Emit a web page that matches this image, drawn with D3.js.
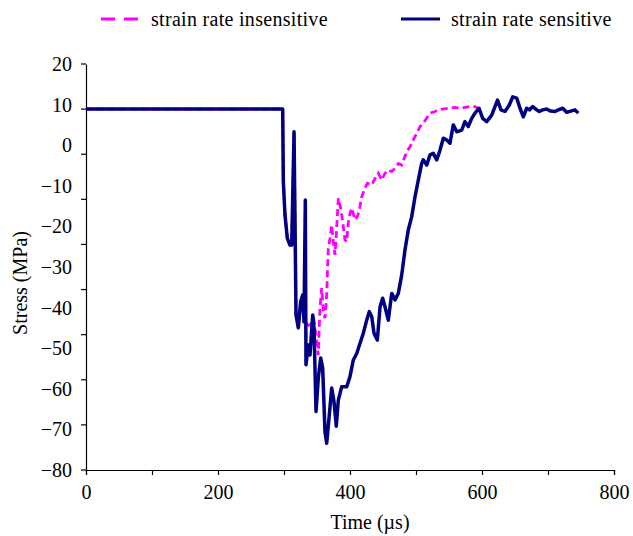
<!DOCTYPE html>
<html>
<head>
<meta charset="utf-8">
<script src="https://cdn.jsdelivr.net/npm/d3@7"></script>
<style>
  body { margin: 0; background: #fff; }
  svg { display: block; font-family: "Liberation Serif", "Times New Roman", serif; }
</style>
</head>
<body>
<svg width="633" height="536"></svg>
<script>
// series names (legend)
var seriesNames = ['strain rate insensitive', 'strain rate sensitive'];

// strain rate sensitive (solid navy)
var sensitiveTime = [0, 298, 299, 301.5, 305, 309, 311.7, 315.2, 318.2, 321.7, 325.3, 328.3, 330.3, 332.3, 333.3,
  336.8, 339.4, 343.5, 345.5, 348.5, 352, 355.6, 358.6, 362.1, 364.7, 368.6, 372.3, 375.8, 379.2, 382.3, 387.4,
  395, 400, 405, 410.2, 415.2, 420.2, 425.3, 429.2, 432.9, 436.4, 441.4, 445.5, 449.5, 453, 458, 463.2, 468.2,
  473.2, 478.3, 483.3, 488.3, 493.5, 498.5, 503.5, 508.6, 511, 516.2, 521.2, 526.2, 531.4, 536.4, 541.4, 546.5,
  551.5, 556.5, 561.7, 569.2, 574.2, 579.2, 584.4, 589.4, 595.5, 601, 607.1, 614.7, 623.5, 628.8, 634.8, 641.4,
  646.5, 652.6, 657.6, 662.6, 667.7, 671.7, 676.8, 682.9, 686.8, 692, 698, 704, 710.6, 715.6, 722.3, 728.3,
  734.4, 740.9, 745.9];
var sensitiveStress = [8.9, 8.9, -9, -17.2, -22.9, -24.6, -24.6, 3.3, -41.8, -45, -38.5, -36.9, -43.5, -13.5, -54.1,
  -49.2, -51.7, -41.8, -45, -65.6, -57.3, -52.4, -54.9, -70.6, -73.4, -66.5, -59.8, -63.2, -69.2, -62.8, -59.5,
  -59.5, -57, -52.9, -51.3, -48.8, -46.3, -43.1, -41, -42.2, -46.3, -48, -39.8, -37.7, -39.8, -43.1, -36.5, -38.1,
  -36.5, -32, -25.8, -20.9, -17.6, -12.7, -8.6, -4.5, -3.6, -4.9, -2.4, -2, -3.6, -1.2, 1.7, 1.3,
  0.5, 5, 3.3, 3.7, 5.8, 4.6, 6.6, 7.9, 9.1, 6.6, 5.8, 7.4, 11.1, 8.7, 8.3, 9.9,
  11.9, 11.6, 9.1, 7, 9.1, 8.7, 9.5, 8.7, 8.3, 8.7, 8.9, 8.4, 8.3, 8.7, 9.1, 8.1,
  8.4, 8.7, 7.9];

// strain rate insensitive (dashed magenta)
var insensitiveTime = [0, 298, 299, 301.5, 305, 309, 311.7, 315.2, 318.2, 321.7, 325.3, 328.3, 330.3,
  336.8, 339.4, 342, 344.4, 349.5, 352, 354.5, 357.1, 359.5, 362.1, 364.7, 365.6, 367.1, 369.7, 372.3, 374.7,
  377.3, 379.8, 382.3, 385.9, 388.9, 392.4, 395, 397.4, 400, 402.6, 407.6, 411.1, 414.1, 417.7, 422.7, 426.2,
  432.9, 437.9, 442.9, 448, 453, 458, 463.2, 468.2, 473.2, 478.3, 485.9, 490.9, 495.9, 501, 506, 511,
  521.2, 528.8, 533.8, 549, 559.1, 566.7, 581.8, 589.4, 594.4];
var insensitiveStress = [8.9, 8.9, -9, -17.2, -22.9, -24.6, -24.6, 3.3, -41.8, -45, -38.5, -36.9, -43.5,
  -44.3, -43.5, -45.1, -41.8, -48.4, -51.7, -40.2, -35.2, -41, -42.6, -36.9, -32, -25.4, -22.9, -19.7, -23.8,
  -27, -20.5, -13.1, -15.5, -18.8, -23.3, -23.8, -19.2, -16.8, -15.5, -18.4, -17.6, -16, -12.7, -10.6, -9.4,
  -9.8, -8.2, -6.9, -8.6, -6.9, -6.1, -6.5, -5.7, -4.5, -4.9, -1.6, -0.4, 1.3, 2.9, 4.6, 5.4,
  7.9, 8.3, 8.7, 9.1, 9.3, 9.1, 9.5, 9.5, 9.1];

// axis ticks
var xTickValues = [0, 100, 200, 300, 400, 500, 600, 700, 800];
var yTickValues = [20, 10, 0, -10, -20, -30, -40, -50, -60, -70, -80];

var sensitiveData = sensitiveTime.map(function (t, i) { return { t: t, s: sensitiveStress[i] }; });
var insensitiveData = insensitiveTime.map(function (t, i) { return { t: t, s: insensitiveStress[i] }; });

const svg = d3.select('svg');
const margin = { top: 64, bottom: 66, left: 86, right: 19 };
const width = 633, height = 536;
const fontSize = 20;

const x = d3.scaleLinear().domain([0, 800]).range([margin.left, width - margin.right]);
const y = d3.scaleLinear().domain([-80, 20]).range([height - margin.bottom, margin.top]);

// y axis: labels from the scale
const yAxis = svg.append('g')
  .attr('transform', 'translate(' + margin.left + ',0)')
  .call(d3.axisLeft(y).tickValues(yTickValues).tickSize(0).tickPadding(14));
yAxis.select('.domain').attr('stroke', '#000').attr('stroke-width', 1.2);
yAxis.selectAll('text').attr('font-size', fontSize).attr('fill', '#000')
  .attr('font-family', '"Liberation Serif", serif');

// the source draws 10 evenly spaced tick marks against 11 labels
const yMark = d3.scaleLinear().domain([0, 9]).range(y.range());
svg.append('g').selectAll('line')
  .data(d3.range(10))
  .join('line')
  .attr('x1', margin.left - 5).attr('x2', margin.left)
  .attr('y1', d => yMark(d)).attr('y2', d => yMark(d))
  .attr('stroke', '#000').attr('stroke-width', 1.2);

// x axis
const xAxis = svg.append('g')
  .attr('transform', 'translate(0,' + (height - margin.bottom) + ')')
  .call(d3.axisBottom(x).tickValues(xTickValues).tickSize(5).tickPadding(10)
    .tickFormat(d => d % 200 === 0 ? d : ''));
xAxis.select('.domain').attr('stroke', '#000').attr('stroke-width', 1.2);
xAxis.selectAll('line').attr('stroke', '#000').attr('stroke-width', 1.2);
xAxis.selectAll('text').attr('font-size', fontSize).attr('fill', '#000')
  .attr('font-family', '"Liberation Serif", serif');

// axis titles
svg.append('text')
  .attr('x', (x.range()[0] + x.range()[1]) / 2 + 20)
  .attr('y', 529)
  .attr('text-anchor', 'middle')
  .attr('font-size', fontSize)
  .text('Time (\u00b5s)');

svg.append('text')
  .attr('transform', 'translate(27,283) rotate(-90)')
  .attr('text-anchor', 'middle')
  .attr('font-size', fontSize)
  .text('Stress (MPa)');

// lines
const line = d3.line()
  .x(d => x(d.t))
  .y(d => y(d.s));

svg.append('path')
  .datum(insensitiveData)
  .attr('fill', 'none')
  .attr('stroke', '#ff00ff')
  .attr('stroke-width', 2.8)
  .attr('stroke-dasharray', '7,4')
  .attr('d', line);

svg.append('path')
  .datum(sensitiveData)
  .attr('fill', 'none')
  .attr('stroke', '#000080')
  .attr('stroke-width', 3.5)
  .attr('stroke-linejoin', 'round')
  .attr('d', line);

// legend
const legend = svg.append('g');
const legendItems = [
  { name: seriesNames[0], color: '#ff00ff', dash: '14,9', x: 101 },
  { name: seriesNames[1], color: '#000080', dash: null, x: 401 }
];
legendItems.forEach(function (d) {
  legend.append('line')
    .attr('x1', d.x).attr('x2', d.x + 39)
    .attr('y1', 19).attr('y2', 19)
    .attr('stroke', d.color)
    .attr('stroke-width', 3)
    .attr('stroke-dasharray', d.dash);
  legend.append('text')
    .attr('x', d.x + 50)
    .attr('y', 19)
    .attr('dy', '0.35em')
    .attr('font-size', fontSize)
    .attr('letter-spacing', 0.3)
    .text(d.name);
});
</script>
</body>
</html>
